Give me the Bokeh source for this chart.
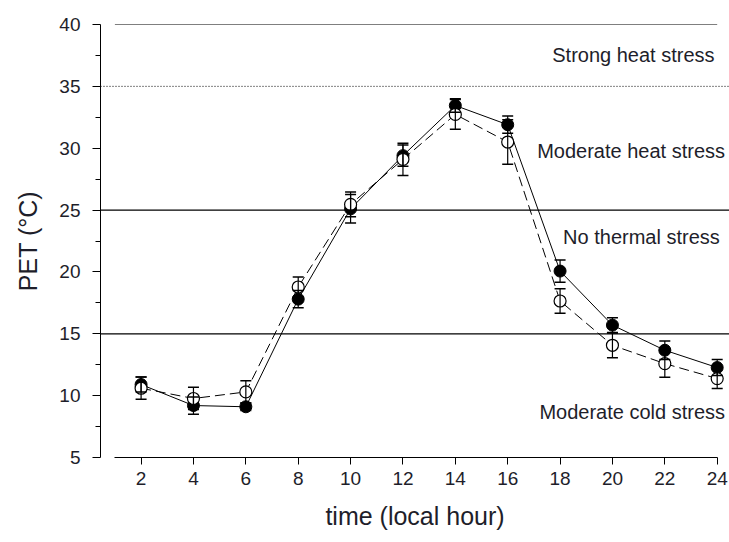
import math
from bokeh.plotting import figure
from bokeh.models import (ColumnDataSource, Whisker, Span, Label, FixedTicker,
                          Range1d)
from bokeh.embed import file_html
from bokeh.resources import INLINE

# ---- data ----
hours = [2, 4, 6, 8, 10, 12, 14, 16, 18, 20, 22, 24]
pet_filled = [10.9, 9.2, 9.1, 17.8, 25.1, 29.4, 33.45, 31.9, 20.07, 15.7, 13.67, 12.27]
err_filled = [0.6, 0.7, 0.3, 0.7, 1.15, 0.85, 0.55, 0.7, 0.9, 0.6, 0.75, 0.65]
pet_open = [10.6, 9.77, 10.3, 18.78, 25.46, 29.1, 32.73, 30.5, 17.65, 14.07, 12.59, 11.38]
err_open = [0.9, 0.9, 0.9, 0.8, 1.0, 1.3, 1.2, 1.8, 1.0, 1.0, 1.1, 0.8]

x_ticks = [2, 4, 6, 8, 10, 12, 14, 16, 18, 20, 22, 24]
y_ticks = [5, 10, 15, 20, 25, 30, 35, 40]

zone_labels = ["Strong heat stress", "Moderate heat stress", "No thermal stress", "Moderate cold stress"]
zone_y = [37.5, 29.8, 22.8, 8.7]
zone_x = [23.9, 24.3, 24.1, 24.3]
thresholds_solid = [25, 15]
threshold_dotted = 35
top_line = 40

FONT = "Liberation Sans"
TXT = "#1e1e2a"

p = figure(width=729, height=542, output_backend="svg", toolbar_location=None,
           x_range=Range1d(0.45, 24.47), y_range=Range1d(5, 40),
           min_border_left=100, min_border_right=0, min_border_top=24,
           min_border_bottom=85)
p.outline_line_color = None
p.xgrid.visible = False
p.ygrid.visible = False
p.background_fill_color = "white"
p.border_fill_color = "white"

# axes
xa = p.xaxis[0]
xa.ticker = FixedTicker(ticks=x_ticks)
xa.bounds = (1, 24)
xa.major_tick_in = 0
xa.major_tick_out = 7
xa.minor_tick_line_color = None
xa.major_label_text_font = FONT
xa.major_label_text_font_size = "19px"
xa.major_label_text_color = TXT
xa.major_label_standoff = 7
xa.axis_label = "time (local hour)"
xa.axis_label_text_font = FONT
xa.axis_label_text_font_style = "normal"
xa.axis_label_text_font_size = "25px"
xa.axis_label_text_color = TXT
xa.axis_label_standoff = 14
xa.axis_line_color = "black"

ya = p.yaxis[0]
ya.ticker = FixedTicker(ticks=y_ticks, minor_ticks=[7.5, 12.5, 17.5, 22.5, 27.5, 32.5, 37.5])
ya.major_tick_in = 0
ya.major_tick_out = 8
ya.minor_tick_in = 0
ya.minor_tick_out = 5
ya.major_label_text_font = FONT
ya.major_label_text_font_size = "19px"
ya.major_label_text_color = TXT
ya.major_label_standoff = 12
ya.axis_line_color = "black"
ya.axis_label = "PET (°C)"
ya.axis_label_text_font = FONT
ya.axis_label_text_font_style = "normal"
ya.axis_label_text_font_size = "25px"
ya.axis_label_text_color = TXT
ya.axis_label_standoff = 14

# reference lines
for yv in thresholds_solid:
    p.add_layout(Span(location=yv, dimension="width", line_color="black", line_width=1.3))
p.add_layout(Span(location=threshold_dotted, dimension="width", line_color="black",
                  line_width=1, line_dash="1 2"))
p.segment(x0=[1], y0=[top_line], x1=[24], y1=[top_line], line_color="black", line_width=1)

# data
src_f = ColumnDataSource(dict(x=hours, y=pet_filled,
                              lo=[a - b for a, b in zip(pet_filled, err_filled)],
                              hi=[a + b for a, b in zip(pet_filled, err_filled)]))
src_o = ColumnDataSource(dict(x=hours, y=pet_open,
                              lo=[a - b for a, b in zip(pet_open, err_open)],
                              hi=[a + b for a, b in zip(pet_open, err_open)]))

p.line("x", "y", source=src_f, line_color="black", line_width=1)
p.line("x", "y", source=src_o, line_color="black", line_width=1, line_dash="10 5")

for s in (src_f, src_o):
    w = Whisker(base="x", lower="lo", upper="hi", source=s, line_color="black", line_width=1.2,
                level="glyph")
    w.upper_head.size = 11
    w.lower_head.size = 11
    w.upper_head.line_width = 1.5
    w.lower_head.line_width = 1.5
    p.add_layout(w)

p.scatter("x", "y", source=src_f, size=12, fill_color="black", line_color="black")
p.scatter("x", "y", source=src_o, size=12, fill_color="white", line_color="black", line_width=1.2)

# zone labels
for t, yv, xv in zip(zone_labels, zone_y, zone_x):
    p.add_layout(Label(x=xv, y=yv, text=t, text_align="right", text_baseline="middle",
                       text_font=FONT, text_font_size="20px", text_color=TXT))

open("out.html", "w").write(file_html(p, INLINE))
